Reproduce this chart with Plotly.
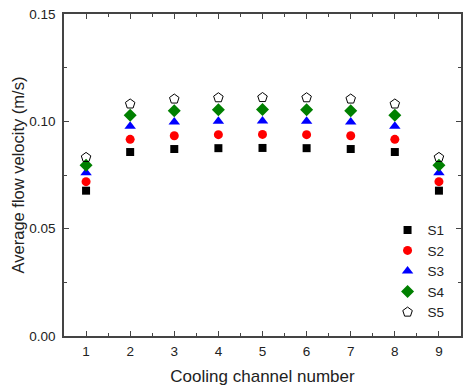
import plotly.graph_objects as go

channels = [1, 2, 3, 4, 5, 6, 7, 8, 9]
s1 = [0.0677, 0.0857, 0.0871, 0.0875, 0.0876, 0.0875, 0.0871, 0.0857, 0.0677]
s2 = [0.0719, 0.0916, 0.0933, 0.0938, 0.0939, 0.0938, 0.0933, 0.0916, 0.0719]
s3 = [0.0761, 0.0977, 0.0997, 0.1000, 0.1001, 0.1000, 0.0997, 0.0977, 0.0761]
s4 = [0.0796, 0.1028, 0.1049, 0.1054, 0.1055, 0.1054, 0.1049, 0.1028, 0.0796]
s5 = [0.0832, 0.1081, 0.1104, 0.1110, 0.1111, 0.1110, 0.1104, 0.1081, 0.0832]
names = ["S1", "S2", "S3", "S4", "S5"]
yticks = [0.00, 0.05, 0.10, 0.15]

styles = [
    dict(symbol="square", color="black", size=8, line=dict(width=0)),
    dict(symbol="circle", color="red", size=9, line=dict(width=0)),
    dict(symbol="triangle-up", color="blue", size=10, line=dict(width=0)),
    dict(symbol="diamond", color="green", size=10, line=dict(width=0)),
    dict(symbol="pentagon-open", color="black", size=10, line=dict(width=1)),
]

fig = go.Figure()
for name, ys, st in zip(names, [s1, s2, s3, s4, s5], styles):
    fig.add_trace(go.Scatter(x=channels, y=ys, mode="markers", name=name, marker=st))

font_family = "Liberation Sans, Arial, sans-serif"
axis_common = dict(
    showline=True, linecolor="#444", linewidth=1.5, mirror="ticks",
    ticks="inside", ticklen=5, tickwidth=1, tickcolor="#444",
    showgrid=False, zeroline=False,
    tickfont=dict(family=font_family, size=13.5, color="#222"),
)

fig.update_layout(
    width=464, height=388,
    margin=dict(l=64, r=1, t=14, b=52),
    paper_bgcolor="white", plot_bgcolor="white",
    font=dict(family=font_family, color="#222"),
    xaxis=dict(
        range=[0.5, 9.5], tickvals=channels, ticktext=[str(c) for c in channels],
        title=dict(text="Cooling channel number", font=dict(size=17), standoff=12),
        minor=dict(ticks="inside", dtick=0.5, tick0=0.5, ticklen=3, tickcolor="#444"),
        ticklabelstandoff=2,
        **axis_common,
    ),
    yaxis=dict(
        range=[0, 0.15], tickvals=yticks, ticktext=[f"{v:.2f}" for v in yticks],
        title=dict(text="Average flow velocity (m/s)", font=dict(size=16.5), standoff=0),
        minor=dict(ticks="inside", dtick=0.025, tick0=0, ticklen=3, tickcolor="#444"),
        ticklabelstandoff=4,
        **axis_common,
    ),
    legend=dict(
        x=0.815, y=0.377, xanchor="left", yanchor="top",
        bgcolor="rgba(0,0,0,0)", font=dict(size=13.5, color="#222"),
        itemsizing="trace", tracegroupgap=0,
    ),
    showlegend=True,
)

fig.write_html("out.html")
